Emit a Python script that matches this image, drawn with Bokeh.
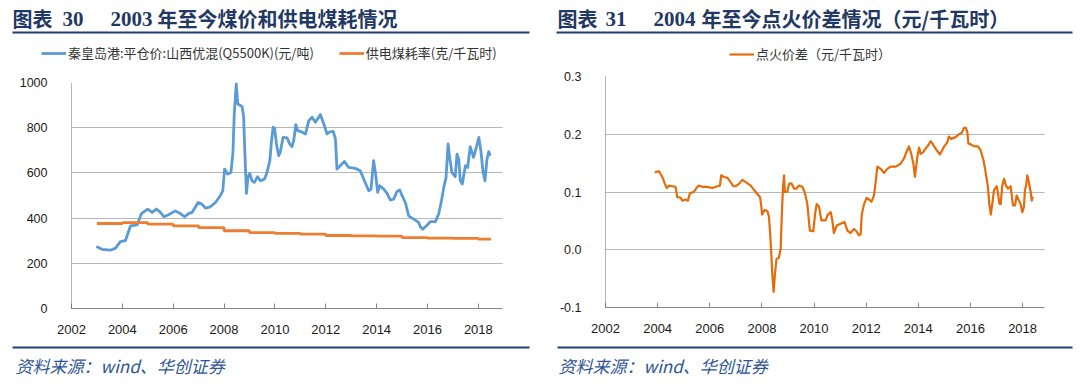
from bokeh.plotting import figure
from bokeh.layouts import row, column
from bokeh.models import (Range1d, FixedTicker, PrintfTickFormatter, Label,
                          BoxAnnotation, Legend, LegendItem)
from bokeh.embed import file_html
from bokeh.resources import INLINE

# ---------------- data ----------------
x_ticks = [2002, 2004, 2006, 2008, 2010, 2012, 2014, 2016, 2018]
left_y_ticks = [0, 200, 400, 600, 800, 1000]
right_y_ticks = [-0.1, 0.0, 0.1, 0.2, 0.3]

# 秦皇岛港:平仓价:山西优混(Q5500K)(元/吨)
coal_t = [2002.98, 2003.2, 2003.53, 2003.73, 2003.92, 2004.12, 2004.32, 2004.58, 2004.75,
          2005.0, 2005.17, 2005.34, 2005.5, 2005.63, 2005.82, 2006.08, 2006.28, 2006.45,
          2006.6, 2006.74, 2006.98, 2007.13, 2007.27, 2007.46, 2007.66, 2007.85, 2007.95,
          2008.02, 2008.14, 2008.27, 2008.35, 2008.4, 2008.48, 2008.54, 2008.64, 2008.71,
          2008.77, 2008.81, 2008.88, 2008.94, 2009.01, 2009.1, 2009.19, 2009.32, 2009.43,
          2009.59, 2009.69, 2009.8, 2009.86, 2009.93, 2009.99, 2010.06, 2010.15, 2010.21,
          2010.32, 2010.48, 2010.58, 2010.67, 2010.74, 2010.82, 2010.89, 2011.0, 2011.2,
          2011.33, 2011.46, 2011.59, 2011.68, 2011.79, 2011.92, 2012.05, 2012.16, 2012.29,
          2012.38, 2012.44, 2012.53, 2012.73, 2012.9, 2013.16, 2013.36, 2013.52, 2013.69,
          2013.78, 2013.88, 2013.96, 2014.04, 2014.12, 2014.28, 2014.41, 2014.54, 2014.67,
          2014.8, 2014.91, 2015.0, 2015.13, 2015.26, 2015.39, 2015.52, 2015.65, 2015.72,
          2015.81, 2015.96, 2016.11, 2016.31, 2016.44, 2016.55, 2016.64, 2016.73, 2016.81,
          2016.87, 2016.96, 2017.09, 2017.16, 2017.23, 2017.29, 2017.37, 2017.49, 2017.58,
          2017.68, 2017.81, 2017.92, 2018.02, 2018.1, 2018.18, 2018.26, 2018.34, 2018.41,
          2018.47]
coal_price = [274, 262, 258, 267, 296, 300, 366, 370, 420,
              440, 425, 440, 425, 406, 415, 432, 420, 406,
              420, 425, 469, 462, 444, 450, 469, 499, 521,
              617, 595, 602, 691, 861, 994, 905, 898, 894,
              846, 713, 509, 580, 598, 565, 558, 583, 565,
              573, 602, 654, 735, 802, 795, 728, 676, 691,
              757, 755, 728, 716, 743, 814, 787, 784, 772,
              831, 846, 824, 839, 858, 817, 772, 782, 784,
              750, 617, 627, 651, 624, 620, 609, 565, 521,
              528, 654, 595, 514, 543, 528, 509, 480, 484,
              518, 524, 499, 469, 410, 400, 391, 381, 362,
              351, 366, 384, 384, 418, 477, 536, 580, 728,
              669, 602, 583, 683, 661, 565, 551, 632, 624,
              716, 669, 713, 757, 698, 609, 565, 661, 694,
              676]

# 供电煤耗率(克/千瓦时) — annual values
rate_year = [2003, 2004, 2005, 2006, 2007, 2008, 2009, 2010, 2011, 2012,
             2013, 2014, 2015, 2016, 2017, 2018]
rate_value = [376, 380, 373, 366, 358, 344, 336, 332, 329, 323,
              321, 320, 314, 311, 310, 307]
rate_last_date = 2018.5

# 点火价差(元/千瓦时)
spark_t = [2003.89, 2004.05, 2004.18, 2004.27, 2004.35, 2004.43, 2004.56, 2004.69, 2004.75,
           2004.88, 2004.95, 2005.07, 2005.16, 2005.24, 2005.39, 2005.52, 2005.58, 2005.71,
           2005.9, 2006.1, 2006.29, 2006.39, 2006.44, 2006.54, 2006.67, 2006.8, 2006.9,
           2006.99, 2007.12, 2007.25, 2007.38, 2007.57, 2007.69, 2007.82, 2007.93, 2007.98,
           2008.01, 2008.1, 2008.21, 2008.27, 2008.31, 2008.36, 2008.4, 2008.45, 2008.5,
           2008.56, 2008.65, 2008.72, 2008.77, 2008.81, 2008.85, 2008.88, 2008.97, 2009.04,
           2009.13, 2009.23, 2009.33, 2009.42, 2009.55, 2009.64, 2009.74, 2009.84, 2009.97,
           2010.04, 2010.1, 2010.19, 2010.28, 2010.44, 2010.53, 2010.64, 2010.7, 2010.76,
           2010.87, 2011.02, 2011.17, 2011.28, 2011.4, 2011.53, 2011.63, 2011.72, 2011.79,
           2011.83, 2011.92, 2012.02, 2012.11, 2012.2, 2012.3, 2012.37, 2012.43, 2012.56,
           2012.69, 2012.81, 2012.94, 2013.13, 2013.32, 2013.45, 2013.58, 2013.64, 2013.73,
           2013.81, 2013.87, 2013.96, 2014.03, 2014.09, 2014.19, 2014.28, 2014.38, 2014.47,
           2014.54, 2014.66, 2014.83, 2014.98, 2015.11, 2015.17, 2015.26, 2015.43, 2015.56,
           2015.66, 2015.75, 2015.82, 2015.88, 2015.92, 2016.03, 2016.14, 2016.29, 2016.39,
           2016.5, 2016.56, 2016.62, 2016.67, 2016.72, 2016.78, 2016.85, 2016.9, 2017.0,
           2017.05, 2017.11, 2017.16, 2017.22, 2017.29, 2017.36, 2017.44, 2017.54, 2017.63,
           2017.71, 2017.77, 2017.86, 2017.92, 2017.99, 2018.05, 2018.09, 2018.14, 2018.18,
           2018.24, 2018.31, 2018.35, 2018.39]
spark_value = [0.134, 0.136, 0.126, 0.115, 0.107, 0.111, 0.110, 0.109, 0.091,
               0.090, 0.085, 0.087, 0.085, 0.098, 0.100, 0.109, 0.111, 0.109,
               0.109, 0.107, 0.110, 0.111, 0.129, 0.126, 0.125, 0.117, 0.110,
               0.110, 0.114, 0.121, 0.117, 0.111, 0.104, 0.097, 0.091, 0.074,
               0.061, 0.069, 0.067, 0.057, 0.033, -0.007, -0.044, -0.073, -0.042,
               -0.016, -0.014, 0.002, 0.068, 0.109, 0.129, 0.100, 0.100, 0.114,
               0.115, 0.106, 0.106, 0.111, 0.109, 0.100, 0.080, 0.033, 0.032,
               0.062, 0.079, 0.075, 0.051, 0.051, 0.061, 0.065, 0.051, 0.029,
               0.042, 0.045, 0.048, 0.033, 0.029, 0.036, 0.032, 0.025, 0.027,
               0.061, 0.079, 0.090, 0.087, 0.083, 0.094, 0.120, 0.144, 0.140,
               0.133, 0.140, 0.144, 0.144, 0.149, 0.158, 0.173, 0.179, 0.166,
               0.149, 0.126, 0.160, 0.177, 0.166, 0.169, 0.175, 0.181, 0.188,
               0.184, 0.175, 0.165, 0.178, 0.186, 0.196, 0.192, 0.195, 0.200,
               0.202, 0.211, 0.211, 0.204, 0.184, 0.182, 0.179, 0.179, 0.172,
               0.155, 0.140, 0.123, 0.109, 0.080, 0.061, 0.084, 0.103, 0.110,
               0.100, 0.080, 0.079, 0.111, 0.123, 0.111, 0.106, 0.110, 0.077,
               0.077, 0.094, 0.085, 0.080, 0.065, 0.074, 0.103, 0.113, 0.129,
               0.117, 0.100, 0.085, 0.092]

left_title_parts = ["图表", "30", "2003", "年至今煤价和供电煤耗情况"]
right_title_parts = ["图表", "31", "2004", "年至今点火价差情况（元/千瓦时）"]
left_legend = ["秦皇岛港:平仓价:山西优混(Q5500K)(元/吨)", "供电煤耗率(克/千瓦时)"]
right_legend = ["点火价差（元/千瓦时）"]
source_text = "资料来源：wind、华创证券"

# ---------------- style ----------------
BLUE = "#5B9BD5"
ORANGE = "#ED7D31"
ORANGE2 = "#E46C0A"
TITLE_C = "#1F3864"
RULE_C = "#1F3F75"
SRC_C = "#2F5597"
GRID_C = "#6F6F6F"
CJK = "Noto Sans CJK SC"
NUM = "Liberation Sans"
SERIF = "Liberation Serif"
HEAD_H = 66
FOOT_H = 40


def style(p, yticks, fmt):
    p.outline_line_color = None
    p.background_fill_color = "white"
    p.border_fill_color = "white"
    p.xgrid.grid_line_color = None
    p.ygrid.ticker = FixedTicker(ticks=yticks)
    p.ygrid.grid_line_color = GRID_C
    p.ygrid.grid_line_dash = "1 1"
    p.ygrid.grid_line_width = 1
    xa = p.xaxis[0]
    xa.ticker = FixedTicker(ticks=x_ticks)
    xa.formatter = PrintfTickFormatter(format="%d")
    xa.axis_line_color = "#868686"
    xa.major_tick_line_color = "#868686"
    xa.major_tick_in = 5
    xa.major_tick_out = 0
    xa.minor_tick_line_color = None
    xa.major_label_text_font = NUM
    xa.major_label_text_font_size = "13px"
    xa.major_label_text_color = "#1a1a1a"
    xa.major_label_standoff = 16
    ya = p.yaxis[0]
    ya.ticker = FixedTicker(ticks=yticks)
    ya.formatter = PrintfTickFormatter(format=fmt)
    ya.axis_line_color = GRID_C
    ya.axis_line_dash = "1 1"
    ya.major_tick_line_color = None
    ya.minor_tick_line_color = None
    ya.major_label_text_font = NUM
    ya.major_label_text_font_size = "12.5px"
    ya.major_label_text_color = "#1a1a1a"
    ya.major_label_standoff = 18


def blank(width, height):
    p = figure(width=width, height=height, output_backend="svg", toolbar_location=None,
               x_axis_type=None, y_axis_type=None, x_range=Range1d(0, width),
               y_range=Range1d(height, 0), min_border=0, frame_align=False)
    p.outline_line_color = None
    p.grid.visible = False
    return p


def header(width, parts, xs, rule, series, labels, leg_loc):
    h = blank(width, HEAD_H)
    fonts = [CJK, SERIF, SERIF, CJK]
    sizes = ["20px", "21px", "21px", "20px"]
    for txt, x, f, s in zip(parts, xs, fonts, sizes):
        h.add_layout(Label(x=x, y=18, text=txt, text_font=f, text_font_style="bold",
                           text_font_size=s, text_color=TITLE_C,
                           text_baseline="middle", text_align="left"))
    h.add_layout(BoxAnnotation(left=rule[0], right=rule[1], top=31, bottom=33,
                               fill_color=RULE_C, fill_alpha=1.0, line_color=None))
    items = []
    # legend entries reuse the series; their years lie outside this panel's range,
    # so only the legend samples are visible here
    for (xs_, ys_, col, lw), lab in zip(series, labels):
        r = h.line(xs_, ys_, line_color=col, line_width=lw)
        items.append(LegendItem(label=lab, renderers=[r]))
    h.add_layout(Legend(items=items, orientation="horizontal", location=leg_loc,
                        label_text_font=CJK, label_text_font_size="13px",
                        label_text_color="#333333", glyph_width=25, glyph_height=14,
                        label_height=14, label_standoff=2, spacing=25, padding=0,
                        margin=0, border_line_color=None, background_fill_alpha=0))
    return h


def footer(width, rule, tx):
    f = blank(width, FOOT_H)
    f.add_layout(BoxAnnotation(left=rule[0], right=rule[1], top=6, bottom=8,
                               fill_color=RULE_C, fill_alpha=1.0, line_color=None))
    f.add_layout(Label(x=tx, y=25, text=source_text, text_font=CJK,
                       text_font_style="italic", text_font_size="17px",
                       text_color=SRC_C, text_baseline="middle", text_align="left"))
    return f


# ---------------- left chart ----------------
W1 = 548
p1 = figure(width=W1, height=274, output_backend="svg", toolbar_location=None,
            x_range=Range1d(2002, 2018.95), y_range=Range1d(0, 1000),
            min_border_left=71, min_border_right=46, min_border_top=16,
            min_border_bottom=32, frame_align=False)
style(p1, left_y_ticks, "%d")
p1.line(coal_t, coal_price, line_color=BLUE, line_width=2.8, line_join="round")
p1.step(rate_year + [rate_last_date], rate_value + [rate_value[-1]],
        mode="after", line_color=ORANGE, line_width=2.8)
h1 = header(W1, left_title_parts, [12, 62, 110, 157], (12, 529),
            [(coal_t, coal_price, BLUE, 2.8), (rate_year, rate_value, ORANGE, 2.8)],
            left_legend, (41, 4))
f1 = footer(W1, (12, 529), 15)

# ---------------- right chart ----------------
W2 = 538
p2 = figure(width=W2, height=274, output_backend="svg", toolbar_location=None,
            x_range=Range1d(2002, 2018.84), y_range=Range1d(-0.1, 0.3),
            min_border_left=57, min_border_right=42, min_border_top=10,
            min_border_bottom=33, frame_align=False)
style(p2, right_y_ticks, "%.1f")
p2.line(spark_t, spark_value, line_color=ORANGE2, line_width=2.2, line_join="round")
h2 = header(W2, right_title_parts, [9, 57, 105, 153], (8, 524),
            [(spark_t, spark_value, ORANGE2, 2.2)], right_legend, (181, 3))
f2 = footer(W2, (9, 524), 10)

layout = row(column(h1, p1, f1), column(h2, p2, f2))
open("out.html", "w").write(file_html(layout, INLINE))
